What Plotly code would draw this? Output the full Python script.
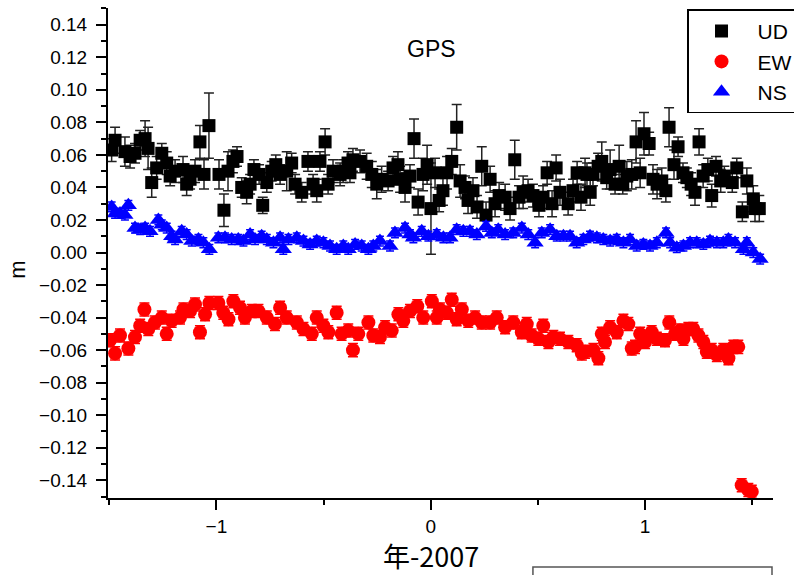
import plotly.graph_objects as go

# ---------------- data ----------------
ud_x = [-1.489, -1.473, -1.427, -1.403, -1.380, -1.356, -1.333, -1.319, -1.302, -1.279,
        -1.255, -1.232, -1.216, -1.193, -1.156, -1.139, -1.123, -1.100, -1.077, -1.058,
        -1.035, -0.988, -0.965, -0.946, -0.923, -0.904, -0.882, -0.859, -0.843, -0.825,
        -0.801, -0.784, -0.765, -0.742, -0.723, -0.703, -0.672, -0.649, -0.633, -0.602,
        -0.573, -0.549, -0.532, -0.517, -0.493, -0.479, -0.456, -0.423, -0.409, -0.386,
        -0.377, -0.363, -0.330, -0.299, -0.275, -0.252, -0.229, -0.199, -0.176, -0.153,
        -0.143, -0.120, -0.097, -0.078, -0.059, -0.036, -0.017, 0.001, 0.020, 0.039,
        0.057, 0.076, 0.098, 0.121, 0.137, 0.160, 0.174, 0.197, 0.216, 0.238,
        0.258, 0.277, 0.300, 0.319, 0.347, 0.370, 0.392, 0.412, 0.431, 0.454,
        0.477, 0.505, 0.524, 0.543, 0.566, 0.585, 0.603, 0.641, 0.664, 0.683,
        0.701, 0.720, 0.729, 0.744, 0.757, 0.781, 0.798, 0.821, 0.837, 0.860,
        0.879, 0.896, 0.915, 0.938, 0.958, 0.977, 0.995, 1.019, 1.037, 1.056,
        1.078, 1.097, 1.112, 1.135, 1.154, 1.177, 1.195, 1.215, 1.233, 1.252,
        1.271, 1.293, 1.311, 1.331, 1.353, 1.370, 1.407, 1.428, 1.454, 1.475,
        1.505, 1.513, 1.533]
ud_y = [0.063, 0.069, 0.062, 0.059, 0.061, 0.069, 0.070, 0.064, 0.043, 0.052,
        0.061, 0.055, 0.047, 0.050, 0.051, 0.042, 0.045, 0.050, 0.068, 0.048,
        0.078, 0.048, 0.026, 0.050, 0.056, 0.059, 0.040, 0.037, 0.042, 0.051,
        0.048, 0.029, 0.043, 0.050, 0.054, 0.048, 0.050, 0.055, 0.042, 0.037,
        0.056, 0.042, 0.038, 0.056, 0.068, 0.042, 0.050, 0.048, 0.050, 0.055,
        0.049, 0.057, 0.056, 0.053, 0.048, 0.042, 0.045, 0.044, 0.052, 0.054,
        0.045, 0.040, 0.047, 0.070, 0.031, 0.048, 0.054, 0.027, 0.049, 0.032,
        0.038, 0.049, 0.056, 0.077, 0.044, 0.040, 0.032, 0.038, 0.028, 0.053,
        0.023, 0.045, 0.030, 0.035, 0.034, 0.027, 0.057, 0.034, 0.037, 0.038,
        0.035, 0.029, 0.034, 0.049, 0.030, 0.052, 0.037, 0.030, 0.038, 0.049,
        0.034, 0.049, 0.048, 0.037, 0.048, 0.053, 0.056, 0.046, 0.051, 0.042,
        0.053, 0.042, 0.047, 0.048, 0.068, 0.049, 0.073, 0.067, 0.045, 0.042,
        0.044, 0.038, 0.077, 0.054, 0.065, 0.049, 0.046, 0.042, 0.037, 0.068,
        0.047, 0.051, 0.035, 0.053, 0.044, 0.047, 0.043, 0.052, 0.025, 0.044,
        0.033, 0.027, 0.027]
ud_err = [0.007, 0.008, 0.009, 0.007, 0.006, 0.006, 0.011, 0.013, 0.009, 0.007,
          0.006, 0.007, 0.006, 0.007, 0.008, 0.007, 0.006, 0.007, 0.010, 0.009,
          0.020, 0.009, 0.010, 0.012, 0.007, 0.006, 0.006, 0.007, 0.006, 0.006,
          0.006, 0.005, 0.006, 0.006, 0.006, 0.006, 0.012, 0.006, 0.006, 0.006,
          0.006, 0.006, 0.007, 0.006, 0.008, 0.006, 0.007, 0.007, 0.007, 0.007,
          0.006, 0.007, 0.007, 0.008, 0.008, 0.009, 0.008, 0.006, 0.007, 0.008,
          0.008, 0.009, 0.007, 0.012, 0.008, 0.010, 0.012, 0.028, 0.009, 0.007,
          0.009, 0.010, 0.008, 0.014, 0.010, 0.007, 0.008, 0.008, 0.007, 0.012,
          0.008, 0.008, 0.008, 0.008, 0.008, 0.007, 0.012, 0.007, 0.010, 0.007,
          0.007, 0.007, 0.007, 0.007, 0.008, 0.008, 0.008, 0.007, 0.007, 0.007,
          0.008, 0.009, 0.007, 0.008, 0.007, 0.008, 0.012, 0.007, 0.012, 0.006,
          0.013, 0.006, 0.009, 0.009, 0.013, 0.009, 0.013, 0.007, 0.009, 0.009,
          0.008, 0.007, 0.012, 0.009, 0.006, 0.006, 0.006, 0.007, 0.008, 0.008,
          0.007, 0.007, 0.007, 0.006, 0.007, 0.006, 0.006, 0.006, 0.006, 0.008,
          0.008, 0.008, 0.008]

ew_x = [-1.497, -1.473, -1.450, -1.411, -1.380, -1.356, -1.336, -1.318, -1.287, -1.255,
        -1.232, -1.209, -1.170, -1.154, -1.123, -1.100, -1.077, -1.053, -1.033, -0.991,
        -0.968, -0.944, -0.921, -0.890, -0.867, -0.835, -0.804, -0.765, -0.727, -0.703,
        -0.672, -0.625, -0.594, -0.555, -0.532, -0.501, -0.478, -0.439, -0.416, -0.385,
        -0.363, -0.338, -0.291, -0.268, -0.237, -0.213, -0.182, -0.151, -0.128, -0.097,
        -0.063, -0.035, 0.005, 0.028, 0.043, 0.075, 0.098, 0.121, 0.145, 0.175,
        0.207, 0.238, 0.277, 0.308, 0.347, 0.385, 0.425, 0.448, 0.471, 0.502,
        0.525, 0.549, 0.572, 0.603, 0.642, 0.681, 0.705, 0.720, 0.759, 0.782,
        0.798, 0.813, 0.837, 0.868, 0.899, 0.922, 0.938, 0.953, 0.977, 1.000,
        1.031, 1.055, 1.093, 1.113, 1.140, 1.163, 1.179, 1.202, 1.225, 1.249,
        1.272, 1.288, 1.311, 1.335, 1.365, 1.389, 1.412, 1.435, 1.451, 1.482,
        1.498]
ew_y = [-0.054, -0.062, -0.051, -0.059, -0.052, -0.045, -0.035, -0.047, -0.043, -0.040,
        -0.050, -0.042, -0.040, -0.035, -0.036, -0.032, -0.049, -0.038, -0.031, -0.031,
        -0.037, -0.041, -0.030, -0.034, -0.040, -0.036, -0.036, -0.040, -0.044, -0.034,
        -0.040, -0.043, -0.047, -0.050, -0.040, -0.045, -0.049, -0.037, -0.050, -0.048,
        -0.060, -0.050, -0.043, -0.051, -0.052, -0.046, -0.048, -0.038, -0.042, -0.036,
        -0.033, -0.040, -0.030, -0.040, -0.035, -0.037, -0.029, -0.041, -0.035, -0.042,
        -0.040, -0.043, -0.043, -0.040, -0.046, -0.043, -0.049, -0.044, -0.051, -0.053,
        -0.045, -0.055, -0.052, -0.053, -0.055, -0.057, -0.062, -0.061, -0.060, -0.065,
        -0.050, -0.055, -0.046, -0.049, -0.042, -0.044, -0.059, -0.058, -0.050, -0.055,
        -0.049, -0.053, -0.054, -0.043, -0.050, -0.048, -0.053, -0.047, -0.047, -0.051,
        -0.055, -0.061, -0.060, -0.063, -0.060, -0.065, -0.058, -0.058, -0.143, -0.146,
        -0.147]
ew_err = 0.004

ns_x = [-1.489, -1.473, -1.450, -1.427, -1.411, -1.380, -1.356, -1.333, -1.310, -1.271,
        -1.255, -1.232, -1.209, -1.193, -1.162, -1.139, -1.115, -1.084, -1.061, -1.033,
        -0.991, -0.960, -0.929, -0.898, -0.874, -0.843, -0.820, -0.789, -0.765, -0.734,
        -0.703, -0.688, -0.664, -0.625, -0.594, -0.563, -0.532, -0.501, -0.470, -0.439,
        -0.408, -0.385, -0.353, -0.322, -0.291, -0.268, -0.237, -0.190, -0.167, -0.120,
        -0.097, -0.081, -0.042, -0.011, 0.028, 0.059, 0.090, 0.121, 0.152, 0.183,
        0.215, 0.258, 0.285, 0.315, 0.347, 0.385, 0.425, 0.455, 0.487, 0.518,
        0.557, 0.588, 0.619, 0.650, 0.681, 0.712, 0.743, 0.775, 0.805, 0.837,
        0.868, 0.899, 0.930, 0.961, 0.992, 1.023, 1.055, 1.098, 1.117, 1.148,
        1.179, 1.210, 1.241, 1.272, 1.303, 1.335, 1.365, 1.389, 1.420, 1.459,
        1.475, 1.505, 1.537]
ns_y = [0.028, 0.024, 0.024, 0.023, 0.029, 0.015, 0.014, 0.015, 0.013, 0.020,
        0.017, 0.015, 0.010, 0.008, 0.013, 0.011, 0.007, 0.008, 0.006, 0.002,
        0.009, 0.009, 0.008, 0.008, 0.007, 0.011, 0.008, 0.010, 0.008, 0.006,
        0.009, 0.002, 0.008, 0.009, 0.007, 0.005, 0.007, 0.006, 0.004, 0.002,
        0.004, 0.002, 0.005, 0.004, 0.002, 0.004, 0.007, 0.004, 0.012, 0.015,
        0.011, 0.009, 0.013, 0.010, 0.011, 0.009, 0.009, 0.014, 0.013, 0.013,
        0.011, 0.016, 0.012, 0.014, 0.011, 0.012, 0.015, 0.011, 0.006, 0.012,
        0.014, 0.010, 0.010, 0.010, 0.006, 0.008, 0.010, 0.009, 0.008, 0.007,
        0.008, 0.006, 0.008, 0.004, 0.005, 0.004, 0.006, 0.012, 0.006, 0.003,
        0.004, 0.006, 0.006, 0.005, 0.007, 0.006, 0.006, 0.008, 0.006, 0.002,
        0.006, 0.000, -0.004]
ns_err = 0.003

series_names = ["UD", "EW", "NS"]
x_title = "年-2007"
y_title = "m"
chart_title = "GPS"

# ---------------- figure ----------------
fig = go.Figure()
fig.add_trace(go.Scatter(
    x=ud_x, y=ud_y, mode="markers", name=series_names[0],
    marker=dict(symbol="square", size=13, color="black"),
    error_y=dict(type="data", array=ud_err, color="#222222", thickness=1.5, width=5),
))
fig.add_trace(go.Scatter(
    x=ew_x, y=ew_y, mode="markers", name=series_names[1],
    marker=dict(symbol="circle", size=14, color="#ff0000"),
    error_y=dict(type="constant", value=ew_err, color="#ff0000", thickness=1.5, width=5),
))
fig.add_trace(go.Scatter(
    x=ns_x, y=ns_y, mode="markers", name=series_names[2],
    marker=dict(symbol="triangle-up", size=15, color="#0000ff"),
    error_y=dict(type="constant", value=ns_err, color="#0000ff", thickness=1.5, width=4),
))

tick_font = dict(family="Liberation Sans, Arial, sans-serif", size=19, color="black")

fig.update_layout(
    width=794, height=575,
    margin=dict(l=108, r=21, t=8, b=77, autoexpand=False),
    paper_bgcolor="white", plot_bgcolor="white",
    font=dict(family="Liberation Sans, Arial, sans-serif", color="black"),
    xaxis=dict(
        range=[-1.506, 1.597], showline=True, linecolor="black", linewidth=2,
        ticks="outside", ticklen=10, tickwidth=2, tickcolor="black",
        tick0=0, dtick=1, showgrid=False, zeroline=False, tickfont=tick_font,
        ticklabelstandoff=0,
        minor=dict(ticks="outside", dtick=0.5, ticklen=5, tickwidth=2, tickcolor="black", showgrid=False),
    ),
    yaxis=dict(
        range=[-0.1509, 0.1503], showline=True, linecolor="black", linewidth=2,
        ticks="outside", ticklen=10, tickwidth=2, tickcolor="black",
        tick0=0, dtick=0.02, tickformat=".2f", showgrid=False, zeroline=False, tickfont=tick_font,
        ticklabelstandoff=5,
        minor=dict(ticks="outside", dtick=0.01, ticklen=5, tickwidth=2, tickcolor="black", showgrid=False),
    ),
    legend=dict(
        x=0.8707, y=0.997, xanchor="left", yanchor="top",
        bordercolor="black", borderwidth=1.5, bgcolor="white",
        itemwidth=62, indentation=-3,
        font=dict(family="Liberation Sans, Arial, sans-serif", size=21, color="black"),
    ),
    annotations=[
        dict(text=chart_title, xref="paper", yref="paper", x=0.487, y=0.917,
             xanchor="center", yanchor="middle",
             showarrow=False, font=dict(size=23, color="black")),
        dict(text=y_title, xref="paper", yref="paper", x=-0.1353, y=0.466, textangle=-90,
             xanchor="center", yanchor="middle",
             showarrow=False, font=dict(size=22, color="black")),
        dict(text=x_title, xref="paper", yref="paper", x=0.485, y=-0.118,
             xanchor="center", yanchor="middle", showarrow=False,
             font=dict(family="Noto Sans CJK JP", size=27, color="black")),
    ],
    shapes=[
        dict(type="rect", xref="paper", yref="paper", x0=0.639, x1=0.9985, y0=-0.2, y1=-0.141,
             line=dict(color="#555555", width=1.5), fillcolor="rgba(0,0,0,0)"),
    ],
)

fig.write_html("out.html")
